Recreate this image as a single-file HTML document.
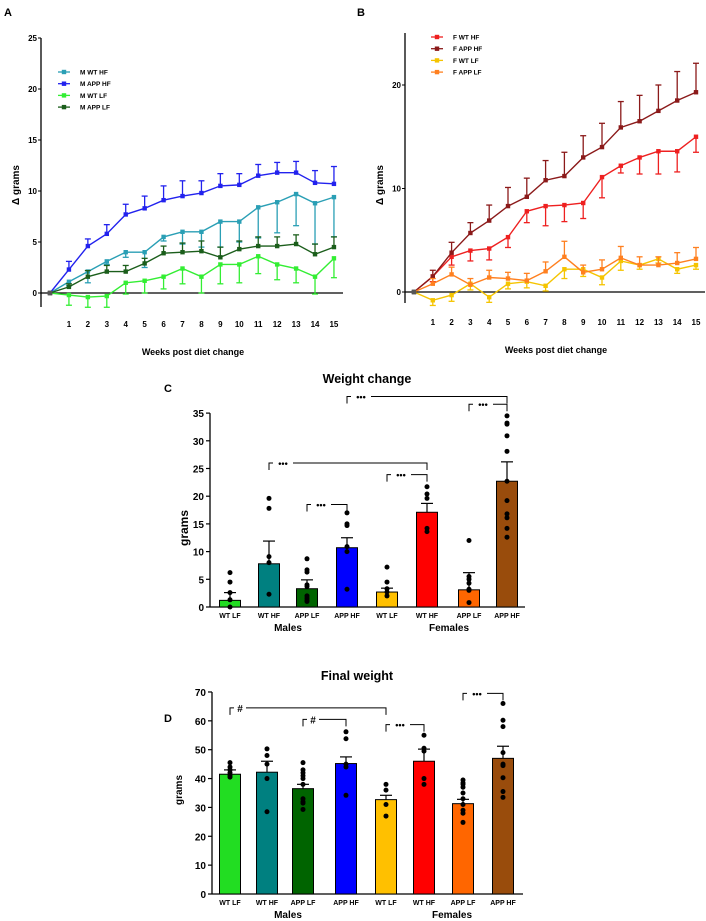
<!DOCTYPE html>
<html><head><meta charset="utf-8">
<style>
html,body{margin:0;padding:0;background:#fff;}
svg{display:block;font-family:"Liberation Sans",Arial,sans-serif;}
text{fill:#000;}
</style></head>
<body>
<svg id="fig" width="706" height="921" viewBox="0 0 706 921">
<text x="4" y="16" font-size="11" font-weight="bold">A</text>
<text x="357" y="16" font-size="11" font-weight="bold">B</text>
<text x="164" y="392" font-size="11" font-weight="bold">C</text>
<text x="164" y="722" font-size="11" font-weight="bold">D</text>
<g id="pa"></g>
<g id="pb"></g>
<g id="pc"></g>
<g id="pd"></g>
</svg>
<script>
// ---- Panel A data ----
const weeks = [0,1,2,3,4,5,6,7,8,9,10,11,12,13,14,15];
const weekTickLabels = ["1","2","3","4","5","6","7","8","9","10","11","12","13","14","15"];
const aNames = ["M WT  HF","M APP  HF","M WT  LF","M APP  LF"];
const aColors = ["#2a9fb5","#2222ee","#33ee33","#1b5e1b"];
const aWTHF = [0,1.1,2.1,3.1,4.0,4.0,5.5,6.0,6.0,7.0,7.0,8.4,8.9,9.7,8.8,9.4];
const aAPPHF = [0,2.3,4.6,5.8,7.7,8.3,9.1,9.5,9.8,10.5,10.6,11.5,11.8,11.8,10.8,10.7];
const aWTLF = [0,-0.2,-0.4,-0.3,1.0,1.2,1.6,2.4,1.6,2.8,2.8,3.6,2.8,2.4,1.6,3.4];
const aAPPLF = [0,0.6,1.6,2.1,2.1,2.9,3.9,4.0,4.1,3.5,4.3,4.6,4.6,4.8,3.8,4.5];
const aWTHFerr = [0,0.4,1.1,0.3,0.5,1.5,0.4,1.2,1.5,2.5,2.0,3.0,3.0,3.1,4.0,3.9];
const aAPPHFerr = [0,0.8,0.7,0.9,1.0,1.2,1.4,1.5,1.2,1.2,1.1,1.1,1.0,1.1,1.2,1.7];
const aWTLFerr = [0,1.0,1.0,1.1,1.1,1.2,1.2,1.5,1.6,1.9,1.8,1.7,1.5,1.4,1.7,1.9];
const aAPPLFerr = [0,0.3,0.6,0.6,0.6,0.5,0.7,0.9,1.0,1.0,0.8,0.9,0.9,0.9,1.0,1.0];
const aTicks = [0,5,10,15,20,25];
// ---- Panel B data ----
const bNames = ["F WT  HF","F APP  HF","F WT  LF","F APP  LF"];
const bColors = ["#ee2020","#8b1a1a","#f5c400","#ff8020"];
const bWTHF = [0,1.5,3.4,4.0,4.2,5.3,7.8,8.3,8.4,8.6,11.1,12.2,13.0,13.6,13.6,15.0];
const bAPPHF = [0,1.5,3.8,5.7,6.9,8.3,9.2,10.8,11.2,13.0,14.0,15.9,16.5,17.5,18.5,19.3];
const bWTLF = [0,-0.8,-0.3,0.8,-0.5,0.8,1.0,0.6,2.2,2.2,1.4,3.0,2.6,3.2,2.2,2.6];
const bAPPLF = [0,0.8,1.7,0.7,1.4,1.3,1.1,2.0,3.4,1.9,2.2,3.3,2.6,2.6,2.8,3.2];
const bWTHFerr = [0,0.5,0.8,1.0,1.1,1.0,1.1,1.9,1.6,1.5,2.0,0.7,1.6,2.2,2.0,1.5];
const bAPPHFerr = [0,0.6,1.0,1.0,1.5,1.8,1.8,1.9,2.3,2.1,2.3,2.5,2.5,2.5,2.8,2.8];
const bWTLFerr = [0,0.5,0.6,0.6,0.5,0.5,0.6,0.5,0.9,0.7,0.7,0.9,0.4,0.4,0.4,0.4];
const bAPPLFerr = [0,0.5,0.7,0.6,0.7,0.6,0.7,0.9,1.5,0.7,0.9,1.1,0.8,0.8,1.0,1.1];
const bTicks = [0,10,20];
// ---- Panel C data ----
const groupLabels = ["WT LF","WT  HF","APP LF","APP HF","WT  LF","WT HF","APP  LF","APP  HF"];
const barColors = ["#22dd22","#008080","#006400","#0000ff","#ffc000","#ff0000","#ff6600","#994c0c"];
const cMeans = [1.2,7.8,3.3,10.7,2.7,17.1,3.1,22.7];
const cSem = [1.4,4.1,1.6,1.8,0.7,1.6,3.1,3.5];
const cDots = [[6.2,4.5,2.6,1.3,0],[19.6,17.8,9.1,8.0,2.3],[8.7,6.7,6.3,4.0,3.7,2.0,1.6,1.2,1.0],[17.0,15.0,14.7,10.9,10.0,3.2],[7.2,4.5,3.3,2.7,2.0],[21.7,20.4,19.6,14.2,13.6],[12.0,5.5,5.0,4.3,3.2,3.0,0.8],[34.5,33.2,33.0,30.9,28.1,22.7,19.2,16.8,16.1,14.2,12.6]];
const cTicks = [0,5,10,15,20,25,30,35];
const cBrackets = [[2,3,18.5,"***"],[1,5,26.0,"***"],[4,5,23.9,"***"],[3,7,38.0,"***"],[6,7,36.6,"***"]];
// ---- Panel D data ----
const dMeans = [41.5,42.2,36.5,45.2,32.7,46.0,31.3,47.0];
const dSem = [1.5,3.8,1.5,2.3,1.5,4.2,1.5,4.2];
const dDots = [[45.5,44,43,42,41,40.5],[50.3,48,45,40,28.5],[45.5,43,42,41,40,38,33,32,31.5,29.3],[56.2,53.8,45,44,34.2],[38,36,31,27],[55,50.5,49.5,40,38],[39.5,38.5,38,37,35,33,31,29,28,24.8],[66,60.2,58,49,45,44.5,40.3,35.5,33.5]];
const dTicks = [0,10,20,30,40,50,60,70];
const dBrackets = [[0,4,64.5,"#"],[2,3,60.5,"#"],[4,5,58.7,"***"],[6,7,69.5,"***"]];

const NS="http://www.w3.org/2000/svg";
function mk(parent,tag,attrs,text){const e=document.createElementNS(NS,tag);for(const k in attrs)e.setAttribute(k,attrs[k]);if(text!==undefined)e.textContent=text;parent.appendChild(e);return e;}

function lineChart(g,cfg){
  const X=w=>cfg.x0+(w-weeks[0])*cfg.dx;
  const Y=v=>cfg.y0-v*cfg.ky;
  let ax=mk(g,'line',{x1:cfg.ax,y1:cfg.yTop,x2:cfg.ax,y2:cfg.yBot,stroke:'#000','stroke-width':1.3});
  
  
  let xx=mk(g,'line',{x1:cfg.ax,y1:cfg.y0,x2:cfg.xEnd,y2:cfg.y0,stroke:'#000','stroke-width':1.3});
  
  
  cfg.ticks.forEach(t=>{
    mk(g,'line',{x1:cfg.ax-3,y1:Y(t),x2:cfg.ax,y2:Y(t),stroke:'#000'});
    let tl=mk(g,'text',{x:cfg.ax-4,y:Y(t)+3,'font-size':8,'font-weight':'bold','text-anchor':'end'},String(t));
    
    
  });
  weekTickLabels.forEach((l,i)=>{
    let tl=mk(g,'text',{x:X(i+1),y:cfg.tickY,'font-size':8,'font-weight':'bold','text-anchor':'middle'},l);
    
    
  });
  let xt=mk(g,'text',{x:cfg.xTitleX,y:cfg.tickY+28,'font-size':9,'font-weight':'bold','text-anchor':'middle'},'Weeks post diet change');
  
  
  let yt=mk(g,'text',{x:0,y:0,'font-size':10,'font-weight':'bold','text-anchor':'middle',transform:`translate(${cfg.yTitleX},${cfg.yTitleY}) rotate(-90)`},'Δ grams');
  
  
  cfg.series.forEach((s,si)=>{
    const col=cfg.colors[si];
    const sg=mk(g,'g',{});
    
    
    s.vals.forEach((v,i)=>{
      if(i===0)return;
      const e=s.err[i]*s.dir;
      mk(sg,'line',{x1:X(weeks[i]),y1:Y(v),x2:X(weeks[i]),y2:Y(v+e),stroke:col,'stroke-width':1.3});
      mk(sg,'line',{x1:X(weeks[i])-3,y1:Y(v+e),x2:X(weeks[i])+3,y2:Y(v+e),stroke:col,'stroke-width':1.3});
    });
    mk(sg,'polyline',{points:s.vals.map((v,i)=>X(weeks[i])+','+Y(v)).join(' '),fill:'none',stroke:col,'stroke-width':1.4});
    s.vals.forEach((v,i)=>{
      let m=mk(sg,'rect',{x:X(weeks[i])-2.2,y:Y(v)-2.2,width:4.4,height:4.4,fill:i===0?'#555':col});
      
      
    });
    const ly=cfg.legY+si*cfg.legDy;
    const lg=mk(g,'g',{});
    
    
    mk(lg,'line',{x1:cfg.legX-6,y1:ly,x2:cfg.legX+6,y2:ly,stroke:col,'stroke-width':1.3});
    mk(lg,'rect',{x:cfg.legX-2.2,y:ly-2.2,width:4.4,height:4.4,fill:col});
    mk(lg,'text',{x:cfg.legX+16,y:ly+2.5,'font-size':6.5,'font-weight':'bold'},cfg.names[si]);
  });
}

lineChart(document.getElementById('pa'),{x0:50,dx:18.93,y0:293,ky:10.2,ax:41,yTop:38,yBot:307,xEnd:343,ticks:aTicks,tickY:327,xTitleX:193,yTitleX:19,yTitleY:185,
  legX:64,legY:72,legDy:11.7,names:aNames,colors:aColors,
  series:[{vals:aWTHF,err:aWTHFerr,dir:-1},{vals:aAPPHF,err:aAPPHFerr,dir:1},{vals:aWTLF,err:aWTLFerr,dir:-1},{vals:aAPPLF,err:aAPPLFerr,dir:1}]});
lineChart(document.getElementById('pb'),{x0:414,dx:18.8,y0:292,ky:10.35,ax:405,yTop:33,yBot:303,xEnd:705,ticks:bTicks,tickY:325,xTitleX:556,yTitleX:383,yTitleY:185,
  legX:437,legY:37,legDy:11.7,names:bNames,colors:bColors,
  series:[{vals:bWTHF,err:bWTHFerr,dir:-1},{vals:bAPPHF,err:bAPPHFerr,dir:1},{vals:bWTLF,err:bWTLFerr,dir:-1},{vals:bAPPLF,err:bAPPLFerr,dir:1}]});

function barChart(g,cfg){
  const Y=v=>cfg.y0-v*cfg.ky;
  const X=i=>cfg.cx[i];
  let t=mk(g,'text',{x:cfg.titleX,y:cfg.titleY,'font-size':12.5,'font-weight':'bold','text-anchor':'middle'},cfg.title);
  
  
  let ya=mk(g,'line',{x1:cfg.ax,y1:Y(cfg.ticks[cfg.ticks.length-1]),x2:cfg.ax,y2:cfg.y0,stroke:'#000','stroke-width':1.3});
  
  
  let xa=mk(g,'line',{x1:cfg.ax,y1:cfg.y0,x2:cfg.xEnd,y2:cfg.y0,stroke:'#000','stroke-width':1.3});
  
  
  cfg.ticks.forEach(v=>{
    mk(g,'line',{x1:cfg.ax-4,y1:Y(v),x2:cfg.ax,y2:Y(v),stroke:'#000','stroke-width':1.2});
    let tl=mk(g,'text',{x:cfg.ax-6,y:Y(v)+4,'font-size':10,'font-weight':'bold','text-anchor':'end'},String(v));
    
    
  });
  let yt=mk(g,'text',{x:0,y:0,'font-size':cfg.yFont,'font-weight':'bold','text-anchor':'middle',transform:`translate(${cfg.yTitleX},${cfg.yTitleY}) rotate(-90)`},'grams');
  
  
  cfg.means.forEach((m,i)=>{
    const w=21;
    let b=mk(g,'rect',{x:X(i)-w/2,y:Y(m),width:w,height:cfg.y0-Y(m),fill:barColors[i],stroke:'#000','stroke-width':1});
    
    
    const top=Y(m+cfg.sem[i]);
    mk(g,'line',{x1:X(i),y1:Y(m),x2:X(i),y2:top,stroke:'#000','stroke-width':1.2});
    mk(g,'line',{x1:X(i)-6,y1:top,x2:X(i)+6,y2:top,stroke:'#000','stroke-width':1.2});
    cfg.dots[i].forEach(v=>{
      let d=mk(g,'circle',{cx:X(i),cy:Y(v),r:2.5,fill:'#000'});
      
      
    });
    let l=mk(g,'text',{x:X(i),y:cfg.y0+11,'font-size':7,'font-weight':'bold','text-anchor':'middle'},groupLabels[i]);
    
    
  });
  let ml=mk(g,'text',{x:cfg.malesX,y:cfg.y0+24,'font-size':10,'font-weight':'bold','text-anchor':'middle'},'Males');
  
  
  let fl=mk(g,'text',{x:cfg.femalesX,y:cfg.y0+24,'font-size':10,'font-weight':'bold','text-anchor':'middle'},'Females');
  
  
  cfg.brackets.forEach(br=>{
    const x1=X(br[0]),x2=X(br[1]),y=Y(br[2]);
    const bg=mk(g,'g',{});
    
    
    const lw=br[3]==='#'?8:16;
    const lx=x1+6;
    mk(bg,'polyline',{points:`${x1},${y+7} ${x1},${y} ${lx-2},${y}`,fill:'none',stroke:'#000','stroke-width':1});
    mk(bg,'polyline',{points:`${lx+lw+2},${y} ${x2},${y} ${x2},${y+7}`,fill:'none',stroke:'#000','stroke-width':1});
    mk(bg,'text',{x:lx+lw/2,y:br[3]==='#'?y+4:y+3.5,'font-size':br[3]==='#'?10:9,'font-weight':'bold','text-anchor':'middle'},br[3]==='#'?'#':'•••');
  });
}

barChart(document.getElementById('pc'),{title:'Weight change',titleX:367,titleY:383,ax:210,xEnd:525,y0:607,ky:5.54,
  cx:[230,269,307,347,387,427,469,507],ticks:cTicks,means:cMeans,sem:cSem,dots:cDots,brackets:cBrackets,
  yTitleX:188,yTitleY:528,yFont:12,malesX:288,femalesX:449});
barChart(document.getElementById('pd'),{title:'Final weight',titleX:357,titleY:680,ax:212,xEnd:523,y0:894,ky:2.886,
  cx:[230,267,303,346,386,424,463,503],ticks:dTicks,means:dMeans,sem:dSem,dots:dDots,brackets:dBrackets,
  yTitleX:182,yTitleY:790,yFont:10,malesX:288,femalesX:452});
</script>
</body></html>
